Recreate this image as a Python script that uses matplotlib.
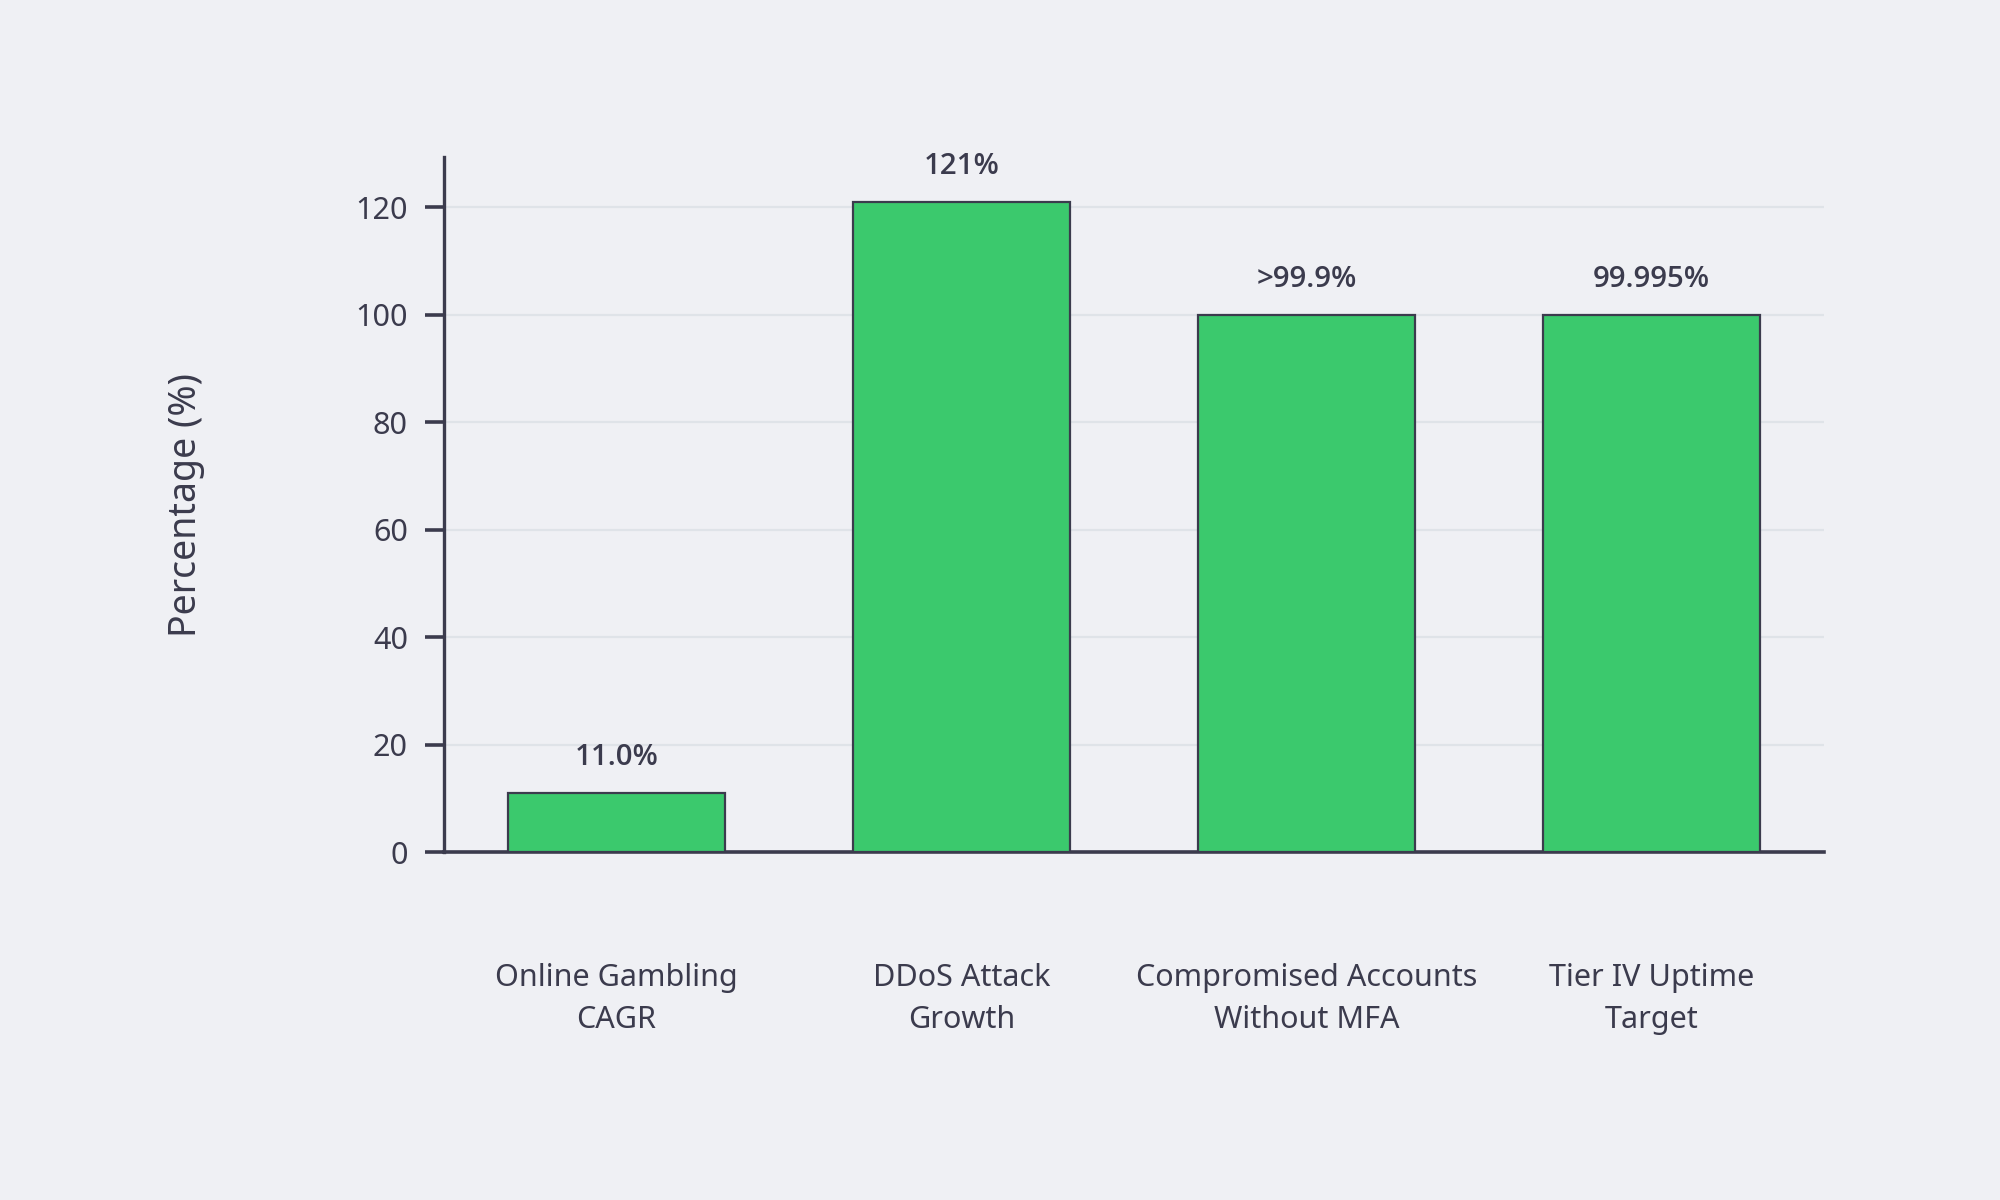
import numpy as np
import matplotlib
matplotlib.use('Agg')
import matplotlib.pyplot as plt

categories = ['Online Gambling\nCAGR', 'DDoS Attack\nGrowth',
              'Compromised Accounts\nWithout MFA', 'Tier IV Uptime\nTarget']
values = [11.0, 121.0, 99.9, 99.995]
value_labels = ['11.0%', '121%', '>99.9%', '99.995%']

bg = '#eff0f4'
ink = '#3b3b4d'
green = '#3bc96d'

plt.rcParams['font.family'] = ['Noto Sans', 'DejaVu Sans']

fig, ax = plt.subplots(figsize=(10, 6), dpi=200)
fig.patch.set_facecolor(bg)
ax.set_facecolor(bg)
fig.subplots_adjust(left=0.222, right=0.912, bottom=0.29, top=0.869)

x = np.arange(len(categories))
ax.bar(x, values, width=0.63, color=green, edgecolor=ink, linewidth=0.8, zorder=3)

for xi, v, lab in zip(x, values, value_labels):
    ax.annotate(lab, (xi, v), xytext=(0, 7.5), textcoords='offset points',
                ha='center', va='bottom', fontsize=10.6, fontweight='semibold', color=ink,
                family=['Open Sans', 'Noto Sans', 'DejaVu Sans'])

ax.set_xlim(-0.5, 3.5)
ax.set_ylim(0, 129.3)
ax.set_yticks([0, 20, 40, 60, 80, 100, 120])
ax.set_xticks(x)
ax.set_xticklabels(categories, fontsize=11, color=ink, linespacing=1.5)
ax.tick_params(axis='x', length=0, pad=40)
ax.tick_params(axis='y', length=7, width=1.3, color=ink, labelsize=11, labelcolor=ink, pad=6)

ax.set_ylabel('Percentage (%)', fontsize=13.5, color=ink, labelpad=54)

ax.grid(axis='y', color='#dfe3e8', linewidth=0.8, zorder=0)
ax.set_axisbelow(True)
for s in ['top', 'right']:
    ax.spines[s].set_visible(False)
ax.spines['left'].set_color(ink)
ax.spines['left'].set_linewidth(1.2)
ax.spines['bottom'].set_color(ink)
ax.spines['bottom'].set_linewidth(1.3)

fig.savefig('out.png', dpi=200, facecolor=bg)
